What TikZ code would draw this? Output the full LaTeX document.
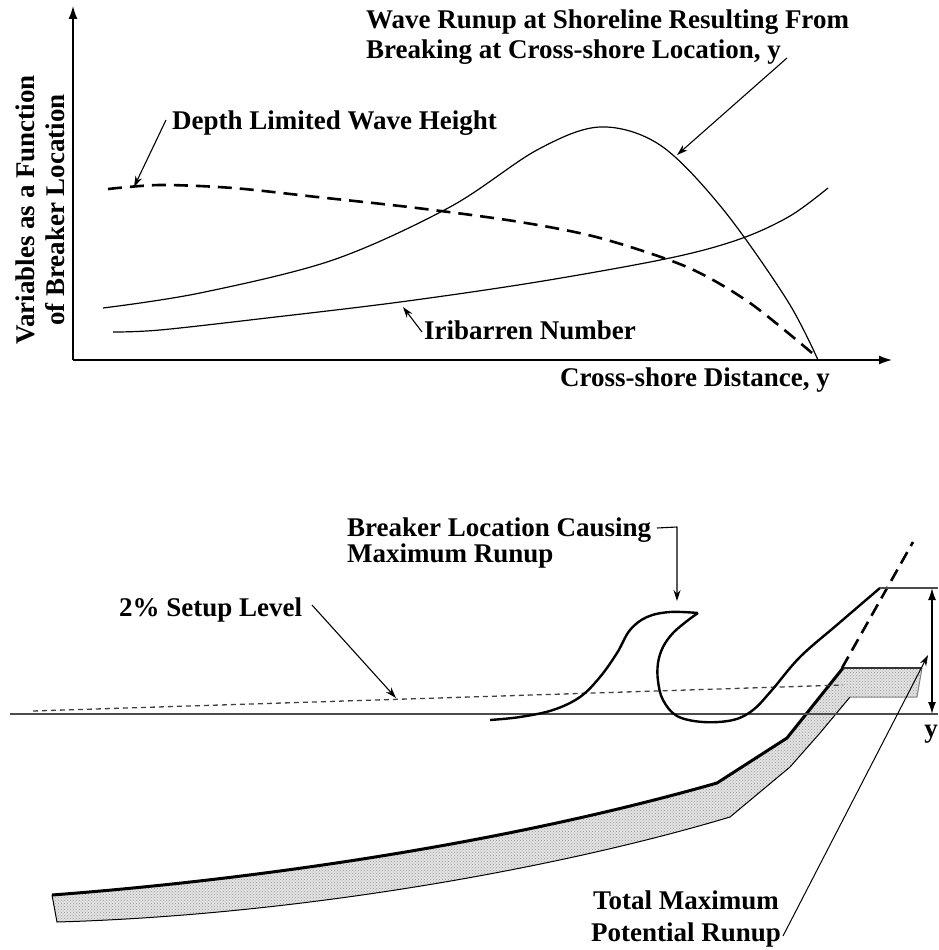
\documentclass[tikz,border=0pt]{standalone}
\usepackage{fontspec}
\setmainfont{Liberation Serif}
\usetikzlibrary{arrows.meta,patterns}
\begin{document}
\begin{tikzpicture}[x=1pt,y=-1pt,
  lbl/.style={inner sep=0pt,font=\fontsize{27}{30}\selectfont\bfseries},
  axisline/.style={line width=1.4pt,-{Latex[length=13pt,width=9pt]}},
  curve/.style={line width=1.2pt},
  pointer/.style={line width=1.1pt,-{Stealth[length=11pt,width=7pt]}},
  bigdash/.style={line width=2.6pt,dash pattern=on 14pt off 8pt},
  thinline/.style={line width=1.1pt,black!70}]
\useasboundingbox (0,0) rectangle (938,950);

% ---------- upper panel: variables versus breaker location ----------
\coordinate (O) at (73,360);
\coordinate (ytop) at (73,6);
\coordinate (xend) at (892,360);
\draw[axisline] (O) -- (ytop);
\draw[axisline] (O) -- (xend);

\node[lbl,rotate=90,align=center] (ylab) at (40,210)
  {Variables as a Function\\of Breaker Location};
\node[lbl,anchor=west] (xlab) at (560,380) {Cross-shore Distance, y};

% depth limited wave height
\draw[bigdash] plot[smooth,tension=0.5] coordinates {
  (108,189) (160,185) (233,188) (317,197) (417,208) (520,222)
  (600,238) (687,267) (750,303) (818,358)};

% runup from breaking at y
\draw[curve] plot[smooth,tension=0.55] coordinates {
  (103,308) (200,293) (333,260) (450,207) (537,150) (600,127)
  (660,145) (722,208) (787,300) (818,360)};

% Iribarren number
\draw[curve] plot[smooth,tension=0.55] coordinates {
  (113,332) (160,330) (267,318) (400,302) (537,282) (670,258)
  (740,239) (790,216) (828,188)};

\node[lbl,anchor=west,align=left] (runlab) at (366,37)
  {Wave Runup at Shoreline Resulting From\\Breaking at Cross-shore Location, y};
\node[lbl,anchor=west] (depthlab) at (172,123) {Depth Limited Wave Height};
\node[lbl,anchor=west] (iriblab) at (424,330) {Iribarren Number};

\coordinate (runtail) at (787,58);
\coordinate (runtip) at (677,155);
\coordinate (depthtail) at (166,120);
\coordinate (depthtip) at (134,187);
\coordinate (iribtail) at (422,332);
\coordinate (iribtip) at (403,307);
\draw[pointer] (runtail) -- (runtip);
\draw[pointer] (depthtail) -- (depthtip);
\draw[pointer] (iribtail) -- (iribtip);

% ---------- lower panel: beach profile and breaking wave ----------
% beach band
\def\beach{(52,895) .. controls (250,880) and (500,845) .. (717,783)
  -- (787,738) -- (843,668) -- (922,668) -- (917,697) -- (850,697)
  -- (820,733) -- (790,767) -- (730,817)
  .. controls (560,868) and (300,915) .. (57,922) -- cycle}
\fill[gray!22] \beach;
\fill[pattern=crosshatch dots,pattern color=gray!80] \beach;
\draw[line width=1pt] (850,697) -- (820,733) -- (790,767) -- (730,817)
  .. controls (560,868) and (300,915) .. (57,922) -- (52,895);
\draw[line width=1pt,gray] (850,697) -- (917,697) -- (922,668);
\draw[line width=3pt,line join=round] (52,895)
  .. controls (250,880) and (500,845) .. (717,783) -- (787,738) -- (843,668);
\draw[line width=2pt,black!80] (843,668) -- (922,668);

% still water line and 2% setup level
\coordinate (swl0) at (10,714);
\coordinate (swl1) at (938,714);
\draw[thinline] (swl0) -- (swl1);
\coordinate (set0) at (33,711);
\coordinate (set1) at (843,685);
\draw[line width=1.3pt,black!75,dash pattern=on 5pt off 4pt] (set0) -- (set1);

% original slope extended
\coordinate (slope0) at (842,668);
\coordinate (slope1) at (913,542);
\draw[line width=2.6pt,dash pattern=on 13pt off 7pt] (slope0) -- (slope1);

% breaking wave and its runup on the slope
\draw[line width=2.4pt,line join=round] plot[smooth,tension=0.6] coordinates {
  (490,720) (520,717) (553,710) (580,697) (600,677) (617,653) (630,630)
  (647,617) (670,612) (698,613)};
\draw[line width=2.4pt,line join=round] plot[smooth,tension=0.6] coordinates {
  (698,613) (687,621) (673,633) (663,647) (658,663) (658,681) (663,700)
  (677,716) (703,722) (733,720) (753,710) (772,690) (800,657)
  (838,624) (880,588)};

% runup extent
\coordinate (rutop0) at (880,588);
\coordinate (rutop1) at (938,588);
\draw[thinline] (rutop0) -- (rutop1);
\coordinate (dimtop) at (932,588);
\coordinate (dimbot) at (932,714);
\draw[line width=1.4pt,{Latex[length=12pt,width=8pt]}-{Latex[length=12pt,width=8pt]}]
  (dimtop) -- (dimbot);
\node[lbl] (ylow) at (931,734) {y};

% labels of the lower panel
\node[lbl,anchor=west] (setlab) at (119,610) {2\% Setup Level};
\node[lbl,anchor=west,align=left,font=\fontsize{27}{23.5}\selectfont\bfseries]
  (brklab) at (347,543) {Breaker Location Causing\\Maximum Runup};
\node[lbl,align=center,font=\fontsize{27}{32}\selectfont\bfseries]
  (totlab) at (686,919) {Total Maximum\\Potential Runup};

\coordinate (settail) at (312,605);
\coordinate (settip) at (396,698);
\draw[pointer] (settail) -- (settip);

\coordinate (brk0) at (657,528);
\coordinate (brk1) at (677,527);
\coordinate (brktip) at (677,601);
\draw[pointer,line join=round] (brk0) -- (brk1) -- (brktip);

\coordinate (tottail) at (783,936);
\coordinate (tottip) at (928,655);
\draw[line width=1pt,-{Stealth[length=11pt,width=7pt]}] (tottail) -- (tottip);
\end{tikzpicture}
\end{document}
